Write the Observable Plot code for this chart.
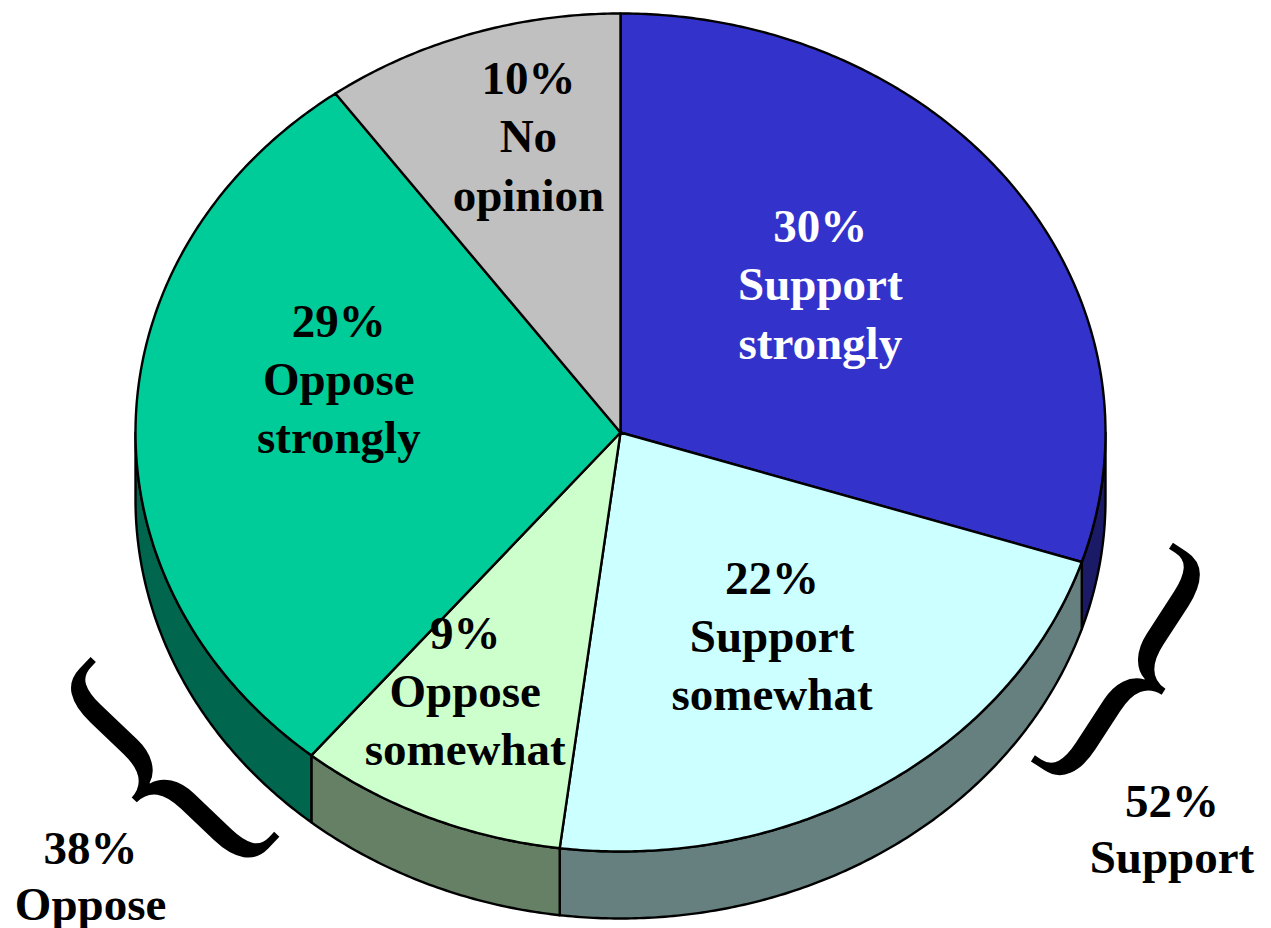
<!DOCTYPE html>
<html><head><meta charset="utf-8">
<script src="https://cdn.jsdelivr.net/npm/d3@7"></script>
<script src="https://cdn.jsdelivr.net/npm/@observablehq/plot@0.6"></script>
<style>
html,body{margin:0;padding:0;background:#fff;}
#chart svg{display:block;}
</style></head><body><div id="chart"></div>
<script>
// ---------- Data ----------
const categories = ["Support strongly", "Support somewhat", "Oppose somewhat", "Oppose strongly", "No opinion"];
const values = [30, 22, 9, 29, 10];
const groupNames = ["Support", "Oppose"];
const groupMembers = [["Support strongly", "Support somewhat"], ["Oppose somewhat", "Oppose strongly"]];

// ---------- Styles ----------
const topColors = ["#3333CC", "#CCFFFF", "#CCFFCC", "#00CC99", "#C0C0C0"];
const labelColors = ["white", "black", "black", "black", "black"];
const FONT = "'Liberation Serif', 'Times New Roman', serif";
const BRACE_SQUEEZE = 0.78;

// ---------- Layout (pixels / pie units) ----------
const W = 1271, H = 928;
const CX = 620, CY = 432, RX = 485, RY = 419, DEPTH = 67;
const sliceLabelPolar = [[-4.4, 0.541], [-0.2, 0.58], [3.9, 0.698], [10.3, 0.594], [2.9, 0.729]]; // [angle shift from mid (deg), radius]
const groupLabelPolar = [[129.9, 1.482], [225.8, 1.524]]; // [angle (deg), radius]
const bracePolar = [[117.05, 1.2016, 33], [230.7, 1.252, -46.4]]; // [angle, radius, rotation]
const braceGlyphs = ["}", "{"];

// ---------- Geometry ----------
const d = DEPTH / RY;
const rad = Math.PI / 180;
const pt = (a, r = 1, drop = 0) => ({x: r * Math.sin(a), y: r * Math.cos(a) - drop});
const arc = (a0, a1, drop = 0) => {
  const n = Math.max(2, Math.ceil(Math.abs(a1 - a0) / (0.5 * rad)));
  return d3.range(n + 1).map(k => pt(a0 + (a1 - a0) * k / n, 1, drop));
};
const sideColor = c => { const q = d3.rgb(c); return d3.rgb(q.r / 2, q.g / 2, q.b / 2).formatHex(); };

const pie = d3.pie().sort(null).value(v => v)(values);
const topRows = [], sideRows = [];
pie.forEach((p, i) => {
  const a0 = p.startAngle, a1 = p.endAngle;
  const poly = [{x: 0, y: 0}, ...arc(a0, a1), {x: 0, y: 0}];
  poly.forEach(q => topRows.push({...q, id: i, fill: topColors[i]}));
  const s0 = Math.max(a0, Math.PI / 2), s1 = Math.min(a1, 3 * Math.PI / 2);
  if (s1 > s0) {
    const top = arc(s0, s1), bot = arc(s1, s0, d);
    [...top, ...bot, top[0]].forEach(q => sideRows.push({...q, id: i, fill: sideColor(topColors[i])}));
  }
});

const sliceLabels = pie.map((p, i) => {
  const mid = (p.startAngle + p.endAngle) / 2 + sliceLabelPolar[i][0] * rad;
  const q = pt(mid, sliceLabelPolar[i][1]);
  return {...q, text: `${values[i]}%\n${categories[i].replace(" ", "\n")}`, color: labelColors[i]};
});
const groupLabels = groupNames.map((g, j) => {
  const total = d3.sum(groupMembers[j], c => values[categories.indexOf(c)]);
  const q = pt(groupLabelPolar[j][0] * rad, groupLabelPolar[j][1]);
  return {...q, text: `${total}%\n${g}`};
});
const braces = braceGlyphs.map((b, j) => ({...pt(bracePolar[j][0] * rad, bracePolar[j][1]), text: b, rot: bracePolar[j][2]}));

const chart = Plot.plot({
  width: W, height: H, margin: 0,
  x: {domain: [-CX / RX, (W - CX) / RX], axis: null},
  y: {domain: [(CY - H) / RY, CY / RY], axis: null},
  color: {type: "identity"},
  marks: [
    Plot.line(sideRows, {x: "x", y: "y", z: "id", fill: "fill", stroke: "black", strokeWidth: 2.4, strokeLinejoin: "round", curve: "linear"}),
    Plot.line(topRows, {x: "x", y: "y", z: "id", fill: "fill", stroke: "black", strokeWidth: 2.4, strokeLinejoin: "round", curve: "linear"}),
    Plot.text(sliceLabels, {x: "x", y: "y", text: "text", fill: "color", fontSize: 47, fontWeight: "bold", fontFamily: FONT, lineHeight: 1.24, lineAnchor: "middle", dy: -4}),
    Plot.text(groupLabels, {x: "x", y: "y", text: "text", fill: "black", fontSize: 47, fontWeight: "bold", fontFamily: FONT, lineHeight: 1.2, lineAnchor: "middle", dy: -4}),
    Plot.text(braces, {x: "x", y: "y", text: "text", rotate: "rot", fill: "black", fontSize: 315, fontFamily: FONT, lineAnchor: "middle"})
  ]
});
// narrow the brace glyphs along their own horizontal axis
d3.select(chart).selectAll("text")
  .filter(function () { return braceGlyphs.includes(this.textContent); })
  .attr("transform", function () { return (this.getAttribute("transform") || "") + ` scale(${BRACE_SQUEEZE},1)`; });
document.getElementById("chart").appendChild(chart);
</script>
</body></html>
